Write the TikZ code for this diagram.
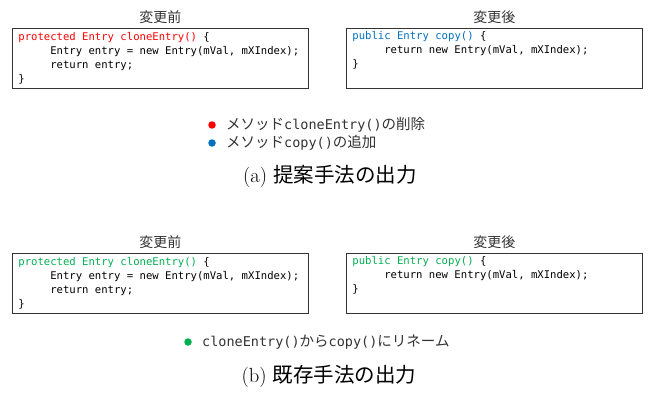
\documentclass[tikz,border=0pt]{standalone}
\usepackage{fontspec}
\setmonofont{DejaVu Sans Mono}
\newfontfamily\ja{Noto Sans CJK JP}
\usetikzlibrary{positioning}
\definecolor{delred}{HTML}{FF0000}
\definecolor{addblue}{HTML}{0070C0}
\definecolor{rengreen}{HTML}{00B050}
\definecolor{inkgray}{HTML}{333333}
\newcommand{\cd}[1]{{\ttfamily\fontsize{13.5}{13.5}\selectfont #1}}
\newcommand{\ind}{\hspace*{3.01em}}
\newcommand{\fixspace}{\spaceskip=0.602em\relax}
\begin{document}
\begin{tikzpicture}[x=1pt, y=-1pt, font=\ja, text=inkgray,
	codebox/.style={draw=black!80, line width=0.8pt, anchor=north west,
		minimum width=296, minimum height=60, text width=284pt,
		inner xsep=6pt, inner ysep=1pt, align=left, text=black,
		font=\ttfamily\fontsize{10.6}{14.2}\selectfont,
		execute at begin node=\fixspace},
	boxtitle/.style={font=\ja\fontsize{14}{14}\selectfont, inner sep=0pt},
	dot/.style={circle, inner sep=0pt, minimum size=7.5pt},
	legend/.style={font=\ja\fontsize{14.5}{14.5}\selectfont, inner sep=0pt},
	caption/.style={font=\fontsize{20.5}{20.5}\selectfont, text=black}]
	\useasboundingbox (0,0) rectangle (648,396);
	% (a) proposed method
	\node[codebox] (beforeA) at (12,28) {\textcolor{delred}{protected Entry cloneEntry()} \{\\
		\ind Entry entry = new Entry(mVal, mXIndex);\\
		\ind return entry;\\
		\}};
	\node[codebox] (afterA) at (346,28) {\textcolor{addblue}{public Entry copy()} \{\\
		\ind return new Entry(mVal, mXIndex);\\
		\}\\
		\strut};
	\node[boxtitle, above=4pt of beforeA] (titleBeforeA) {変更前};
	\node[boxtitle, above=4pt of afterA] (titleAfterA) {変更後};
	\node[dot, fill=delred] (dotDel) at (212,125) {};
	\node[legend, right=10pt of dotDel] (legDel) {メソッド\cd{cloneEntry()}の削除};
	\node[dot, fill=addblue] (dotAdd) at (212,143) {};
	\node[legend, right=10pt of dotAdd] (legAdd) {メソッド\cd{copy()}の追加};
	\node[caption] (capA) at (330,176) {(a) {\ja 提案手法の出力}};
	% (b) existing method
	\node[codebox] (beforeB) at (12,253) {\textcolor{rengreen}{protected Entry cloneEntry()} \{\\
		\ind Entry entry = new Entry(mVal, mXIndex);\\
		\ind return entry;\\
		\}};
	\node[codebox] (afterB) at (346,253) {\textcolor{rengreen}{public Entry copy()} \{\\
		\ind return new Entry(mVal, mXIndex);\\
		\}\\
		\strut};
	\node[boxtitle, above=4pt of beforeB] (titleBeforeB) {変更前};
	\node[boxtitle, above=4pt of afterB] (titleAfterB) {変更後};
	\node[dot, fill=rengreen] (dotRen) at (188,342) {};
	\node[legend, right=10pt of dotRen] (legRen) {\cd{cloneEntry()}から\cd{copy()}にリネーム};
	\node[caption] (capB) at (329,376) {(b) {\ja 既存手法の出力}};
\end{tikzpicture}
\end{document}
